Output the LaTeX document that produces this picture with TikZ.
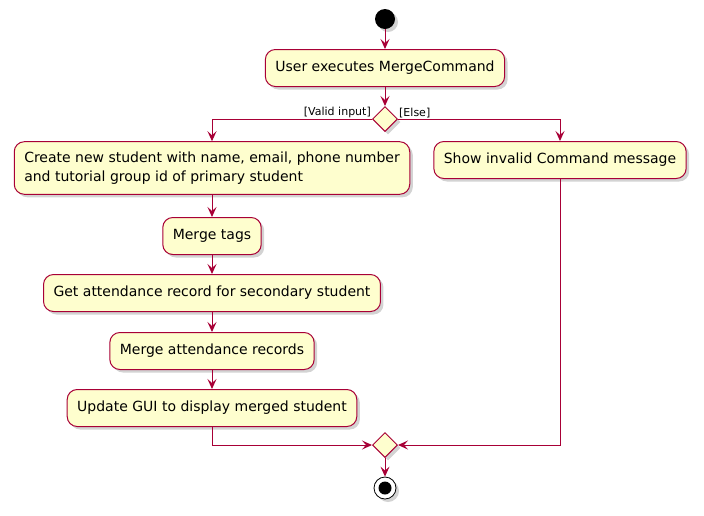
\documentclass[tikz,border=0pt]{standalone}
\usepackage{fontspec}
\setmainfont{DejaVu Sans}
\usetikzlibrary{shapes.geometric}
\usetikzlibrary{arrows.meta}
\usetikzlibrary{shadows}
\definecolor{umlred}{HTML}{A80036}
\definecolor{umlfill}{HTML}{FEFECE}

\begin{document}
\begin{tikzpicture}[x=1pt,y=-1pt]
	\tikzstyle{shade}=[drop shadow={shadow xshift=3pt,shadow yshift=-3pt,opacity=0.35}]
	\tikzstyle{action}=[rectangle,rounded corners=10pt,draw=umlred,fill=umlfill,line width=1pt,inner xsep=10pt,inner ysep=10pt,minimum height=37pt,align=left,font=\fontsize{14}{19}\selectfont,shade]
	\tikzstyle{choice}=[diamond,draw=umlred,fill=umlfill,line width=1pt,minimum size=25pt,inner sep=0pt,shade]
	\tikzstyle{flow}=[draw=umlred,line width=1pt,-{Stealth[length=10pt,width=9pt,inset=4pt]}]
	\tikzstyle{guard}=[font=\fontsize{11}{13}\selectfont,inner sep=1pt]

	\useasboundingbox (0,0) rectangle (704,515);

	\node[circle,fill=black,minimum size=20pt,inner sep=0pt,shade] (start) at (385,19) {};
	\node[action] (execute) at (385,68) {User executes MergeCommand};
	\node[choice] (split) at (385,119) {};
	\node[action] (create) at (212,168) {Create new student with name, email, phone number\\and tutorial group id of primary student};
	\node[action] (invalid) at (560,160) {Show invalid Command message};
	\node[action] (tags) at (212,236) {Merge tags};
	\node[action] (record) at (212,293) {Get attendance record for secondary student};
	\node[action] (attend) at (212,351) {Merge attendance records};
	\node[action] (gui) at (212,408) {Update GUI to display merged student};
	\node[choice] (merge) at (385,445) {};
	\node[circle,draw=black,fill=white,line width=0.8pt,minimum size=22pt,inner sep=0pt,shade] (stop) at (385,488) {};
	\node[circle,fill=black,minimum size=13pt,inner sep=0pt] (stopdot) at (stop) {};

	\node[guard,anchor=south east] at (split.west) {[Valid input]};
	\node[guard,anchor=south west] at (split.east) {[Else]};

	\draw[flow] (start) -- (execute);
	\draw[flow] (execute) -- (split);
	\draw[flow] (split.west) -| (create.north);
	\draw[flow] (split.east) -| (invalid.north);
	\draw[flow] (create) -- (tags);
	\draw[flow] (tags) -- (record);
	\draw[flow] (record) -- (attend);
	\draw[flow] (attend) -- (gui);
	\draw[flow] (gui.south) |- (merge.west);
	\draw[flow] (invalid.south) |- (merge.east);
	\draw[flow] (merge) -- (stop);
\end{tikzpicture}
\end{document}
